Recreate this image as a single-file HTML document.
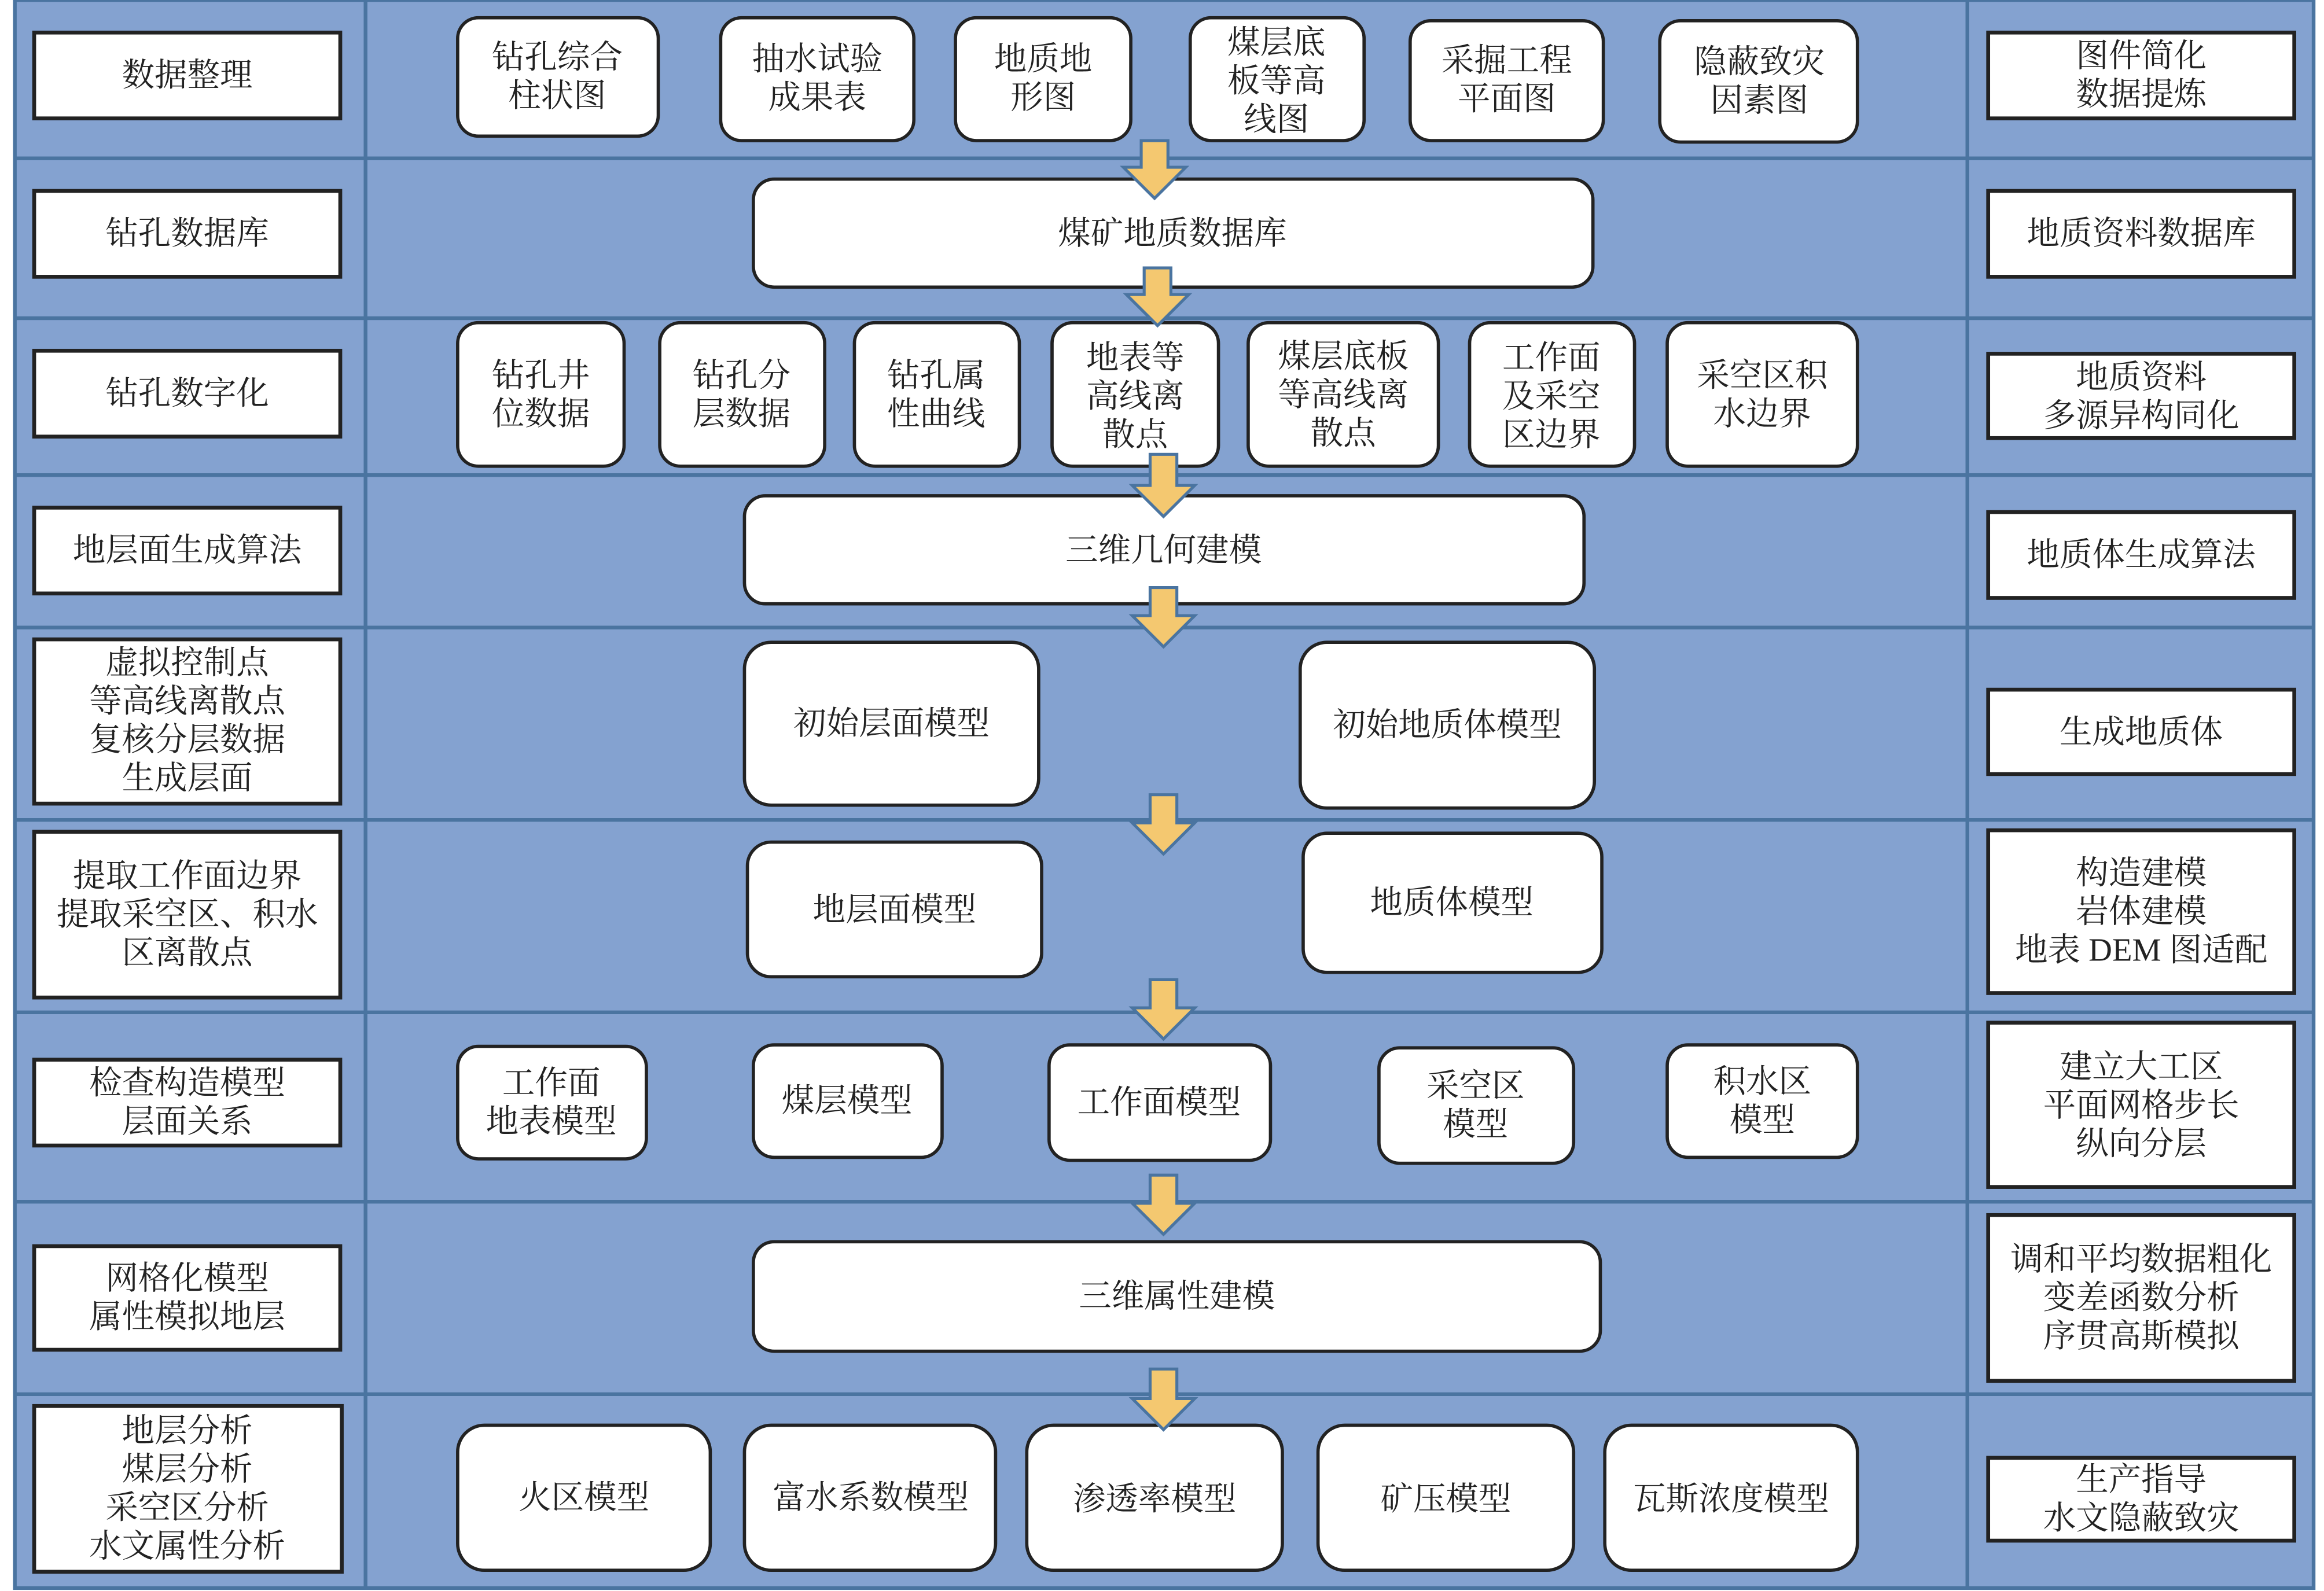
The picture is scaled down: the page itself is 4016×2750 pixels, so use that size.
<!DOCTYPE html>
<html><head><meta charset="utf-8"><style>
html,body{margin:0;padding:0;background:#fff;}
svg{display:block;}
text{font-family:"Liberation Serif","Noto Serif CJK SC","Noto Sans CJK SC",serif;font-size:22px;fill:#222;text-anchor:middle;dominant-baseline:central;}
.lb{fill:#fff;stroke:#222;stroke-width:2.6;}
.rb{fill:#fff;stroke:#222;stroke-width:2.2;}
.ar{fill:#f4c870;stroke:#4a74a0;stroke-width:2;}
.ln{stroke:#4a74a0;stroke-width:2.5;}
</style></head><body>
<svg width="4016" height="2750" viewBox="0 0 1564 1075" preserveAspectRatio="none" xmlns="http://www.w3.org/2000/svg">
<rect x="0" y="0" width="1564" height="1075" fill="#fff"/>
<rect x="10" y="0" width="1547" height="1073" fill="#84a2d0" stroke="#4a74a0" stroke-width="2.5"/>
<line class="ln" x1="246" y1="0" x2="246" y2="1073"/>
<line class="ln" x1="1324" y1="0" x2="1324" y2="1073"/>
<line class="ln" x1="10" y1="107" x2="1557" y2="107"/>
<line class="ln" x1="10" y1="215" x2="1557" y2="215"/>
<line class="ln" x1="10" y1="321" x2="1557" y2="321"/>
<line class="ln" x1="10" y1="424" x2="1557" y2="424"/>
<line class="ln" x1="10" y1="554" x2="1557" y2="554"/>
<line class="ln" x1="10" y1="684" x2="1557" y2="684"/>
<line class="ln" x1="10" y1="812" x2="1557" y2="812"/>
<line class="ln" x1="10" y1="942" x2="1557" y2="942"/>

<rect class="lb" x="23" y="22" width="206" height="58"/><text x="126" y="51">数据整理</text>
<rect class="lb" x="23" y="129" width="206" height="58"/><text x="126" y="158">钻孔数据库</text>
<rect class="lb" x="23" y="237" width="206" height="58"/><text x="126" y="266">钻孔数字化</text>
<rect class="lb" x="23" y="343" width="206" height="58"/><text x="126" y="372">地层面生成算法</text>
<rect class="lb" x="23" y="432" width="206" height="111"/><text x="126" y="448">虚拟控制点</text><text x="126" y="474">等高线离散点</text><text x="126" y="500">复核分层数据</text><text x="126" y="526">生成层面</text>
<rect class="lb" x="23" y="562" width="206" height="112"/><text x="126" y="592">提取工作面边界</text><text x="126" y="618">提取采空区、积水</text><text x="126" y="644">区离散点</text>
<rect class="lb" x="23" y="716" width="206" height="58"/><text x="126" y="732">检查构造模型</text><text x="126" y="758">层面关系</text>
<rect class="lb" x="23" y="842" width="206" height="70"/><text x="126" y="864">网格化模型</text><text x="126" y="890">属性模拟地层</text>
<rect class="lb" x="23" y="950" width="207" height="112"/><text x="126" y="967">地层分析</text><text x="126" y="993">煤层分析</text><text x="126" y="1019">采空区分析</text><text x="126" y="1045">水文属性分析</text>

<rect class="lb" x="1338" y="22" width="206" height="58"/><text x="1441" y="38">图件简化</text><text x="1441" y="64">数据提炼</text>
<rect class="lb" x="1338" y="129" width="206" height="58"/><text x="1441" y="158">地质资料数据库</text>
<rect class="lb" x="1338" y="239" width="206" height="57"/><text x="1441" y="255">地质资料</text><text x="1441" y="281">多源异构同化</text>
<rect class="lb" x="1338" y="346" width="206" height="58"/><text x="1441" y="375">地质体生成算法</text>
<rect class="lb" x="1338" y="466" width="206" height="57"/><text x="1441" y="495">生成地质体</text>
<rect class="lb" x="1338" y="561" width="206" height="110"/><text x="1441" y="590">构造建模</text><text x="1441" y="616">岩体建模</text><text x="1441" y="642">地表 DEM 图适配</text>
<rect class="lb" x="1338" y="691" width="206" height="111"/><text x="1441" y="721">建立大工区</text><text x="1441" y="747">平面网格步长</text><text x="1441" y="773">纵向分层</text>
<rect class="lb" x="1338" y="821" width="206" height="112"/><text x="1441" y="851">调和平均数据粗化</text><text x="1441" y="877">变差函数分析</text><text x="1441" y="903">序贯高斯模拟</text>
<rect class="lb" x="1338" y="985" width="206" height="56"/><text x="1441" y="1000">生产指导</text><text x="1441" y="1026">水文隐蔽致灾</text>

<rect class="rb" x="308" y="12" width="135" height="80" rx="14"/><text x="375" y="39">钻孔综合</text><text x="375" y="65">柱状图</text>
<rect class="rb" x="485" y="12" width="130" height="83" rx="14"/><text x="550" y="40">抽水试验</text><text x="550" y="66">成果表</text>
<rect class="rb" x="643" y="12" width="118" height="83" rx="14"/><text x="702" y="40">地质地</text><text x="702" y="66">形图</text>
<rect class="rb" x="801" y="12" width="117" height="83" rx="14"/><text x="859" y="29">煤层底</text><text x="859" y="55">板等高</text><text x="859" y="81">线图</text>
<rect class="rb" x="949" y="14" width="130" height="81" rx="14"/><text x="1014" y="41">采掘工程</text><text x="1014" y="67">平面图</text>
<rect class="rb" x="1117" y="14" width="133" height="82" rx="14"/><text x="1184" y="42">隐蔽致灾</text><text x="1184" y="68">因素图</text>

<rect class="rb" x="507" y="121" width="565" height="73" rx="14"/><text x="789" y="158">煤矿地质数据库</text>

<rect class="rb" x="308" y="218" width="112" height="97" rx="14"/><text x="364" y="254">钻孔井</text><text x="364" y="280">位数据</text>
<rect class="rb" x="444" y="218" width="111" height="97" rx="14"/><text x="499" y="254">钻孔分</text><text x="499" y="280">层数据</text>
<rect class="rb" x="575" y="218" width="111" height="97" rx="14"/><text x="630" y="254">钻孔属</text><text x="630" y="280">性曲线</text>
<rect class="rb" x="708" y="218" width="112" height="97" rx="14"/><text x="764" y="242">地表等</text><text x="764" y="268">高线离</text><text x="764" y="294">散点</text>
<rect class="rb" x="840" y="218" width="128" height="97" rx="14"/><text x="904" y="241">煤层底板</text><text x="904" y="267">等高线离</text><text x="904" y="293">散点</text>
<rect class="rb" x="989" y="218" width="111" height="97" rx="14"/><text x="1044" y="242">工作面</text><text x="1044" y="268">及采空</text><text x="1044" y="294">区边界</text>
<rect class="rb" x="1122" y="218" width="128" height="97" rx="14"/><text x="1186" y="254">采空区积</text><text x="1186" y="280">水边界</text>

<rect class="rb" x="501" y="335" width="565" height="73" rx="14"/><text x="783" y="372">三维几何建模</text>

<rect class="rb" x="501" y="434" width="198" height="110" rx="18"/><text x="600" y="489">初始层面模型</text>
<rect class="rb" x="875" y="434" width="198" height="112" rx="18"/><text x="974" y="490">初始地质体模型</text>

<rect class="rb" x="503" y="569" width="198" height="91" rx="16"/><text x="602" y="615">地层面模型</text>
<rect class="rb" x="877" y="563" width="201" height="94" rx="16"/><text x="977" y="610">地质体模型</text>

<rect class="rb" x="308" y="707" width="127" height="76" rx="14"/><text x="371" y="732">工作面</text><text x="371" y="758">地表模型</text>
<rect class="rb" x="507" y="706" width="127" height="76" rx="14"/><text x="570" y="744">煤层模型</text>
<rect class="rb" x="706" y="706" width="149" height="78" rx="14"/><text x="780" y="745">工作面模型</text>
<rect class="rb" x="928" y="708" width="131" height="78" rx="14"/><text x="993" y="734">采空区</text><text x="993" y="760">模型</text>
<rect class="rb" x="1122" y="706" width="128" height="76" rx="14"/><text x="1186" y="731">积水区</text><text x="1186" y="757">模型</text>

<rect class="rb" x="507" y="839" width="570" height="74" rx="14"/><text x="792" y="876">三维属性建模</text>

<rect class="rb" x="308" y="963" width="170" height="98" rx="18"/><text x="393" y="1012">火区模型</text>
<rect class="rb" x="501" y="963" width="169" height="98" rx="18"/><text x="586" y="1012">富水系数模型</text>
<rect class="rb" x="691" y="963" width="172" height="98" rx="18"/><text x="777" y="1013">渗透率模型</text>
<rect class="rb" x="887" y="963" width="172" height="98" rx="18"/><text x="973" y="1013">矿压模型</text>
<rect class="rb" x="1080" y="963" width="170" height="98" rx="18"/><text x="1165" y="1013">瓦斯浓度模型</text>

<polygon class="ar" points="768,95 786,95 786,113 798,113 777,134 756,113 768,113"/>
<polygon class="ar" points="770,181 788,181 788,199 800,199 779,220 758,199 770,199"/>
<polygon class="ar" points="774,307 792,307 792,328 804,328 783,349 762,328 774,328"/>
<polygon class="ar" points="774,397 792,397 792,416 804,416 783,437 762,416 774,416"/>
<polygon class="ar" points="774,537 792,537 792,556 804,556 783,577 762,556 774,556"/>
<polygon class="ar" points="774,662 792,662 792,681 804,681 783,702 762,681 774,681"/>
<polygon class="ar" points="774,794 792,794 792,813 804,813 783,834 762,813 774,813"/>
<polygon class="ar" points="774,925 792,925 792,945 804,945 783,966 762,945 774,945"/>
</svg>
</body></html>
